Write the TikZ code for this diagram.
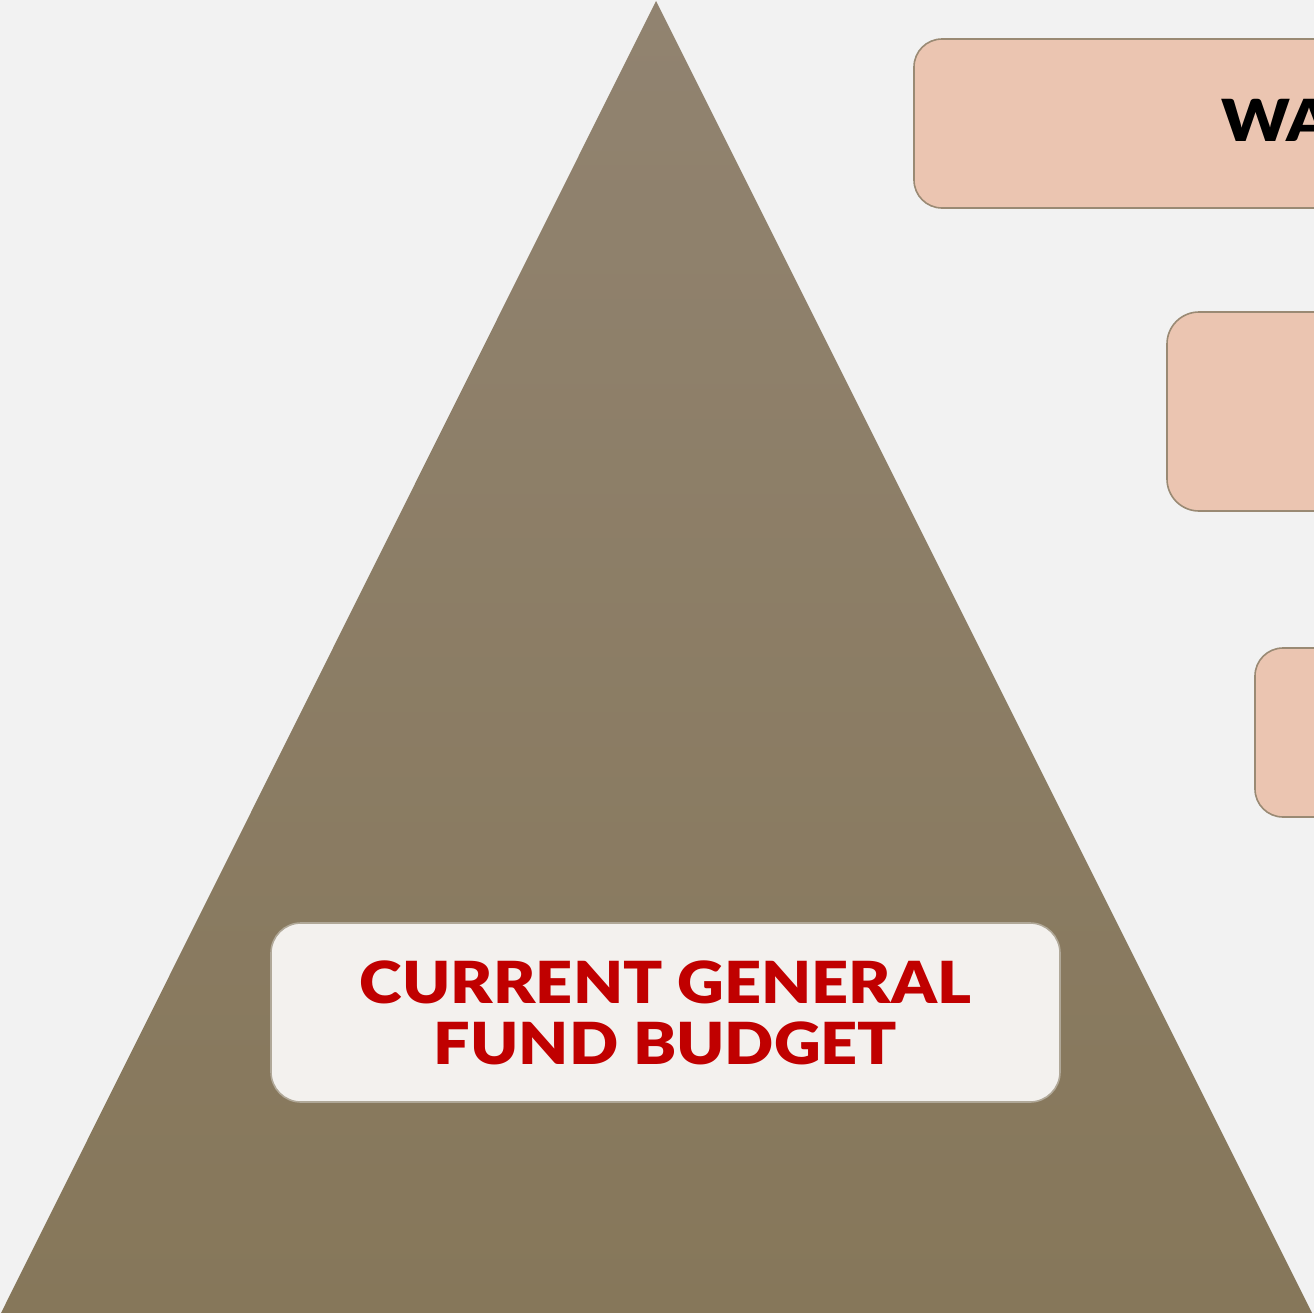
\documentclass[tikz,border=0pt]{standalone}
\usepackage{fontspec}
\setmainfont{Lato}
\newfontfamily\widefont[FakeStretch=1.12,BoldFont={Lato Black},BoldFeatures={FakeStretch=1.115}]{Lato}
\begin{document}
\begin{tikzpicture}[x=0.5pt,y=-0.5pt,
  sidebox/.style={draw=boxline,line width=0.8pt,fill=boxfill,rounded corners=14pt},
  midbox/.style={draw=midline,line width=0.8pt,fill=midfill,rounded corners=15pt},
  redtext/.style={text=redt,font=\widefont\fontsize{29}{30.5}\selectfont\bfseries,align=center},
  blacktext/.style={text=black,font=\widefont\fontsize{29}{30.5}\selectfont\bfseries}]
\definecolor{bg}{HTML}{F2F2F2}
\definecolor{tritop}{HTML}{918370}
\definecolor{tribot}{HTML}{86775A}
\definecolor{boxfill}{HTML}{EBC5B1}
\definecolor{boxline}{HTML}{9A8A74}
\definecolor{midfill}{HTML}{F3F1EE}
\definecolor{midline}{HTML}{B0A898}
\definecolor{redt}{HTML}{C00000}
\useasboundingbox (0,0) rectangle (1314,1313);
\clip (0,0) rectangle (1314,1313);
\fill[bg] (0,0) rectangle (1314,1313);
\shade[top color=tritop,bottom color=tribot] (656,1) -- (1312,1313) -- (1,1313) -- cycle;
\draw[sidebox] (914,39) rectangle (1400,208);
\draw[sidebox,rounded corners=16pt] (1167,312) rectangle (1400,511);
\draw[sidebox] (1255,648) rectangle (1400,817);
\node[blacktext,anchor=base west,inner sep=0pt] (wa) at (1221,141) {WA};
\node[midbox,minimum width=394.5pt,minimum height=89.5pt] (mid) at (665.5,1012.5) {};
\node[redtext] (midtext) at (mid.center) {CURRENT GENERAL\\FUND BUDGET};
\end{tikzpicture}
\end{document}
